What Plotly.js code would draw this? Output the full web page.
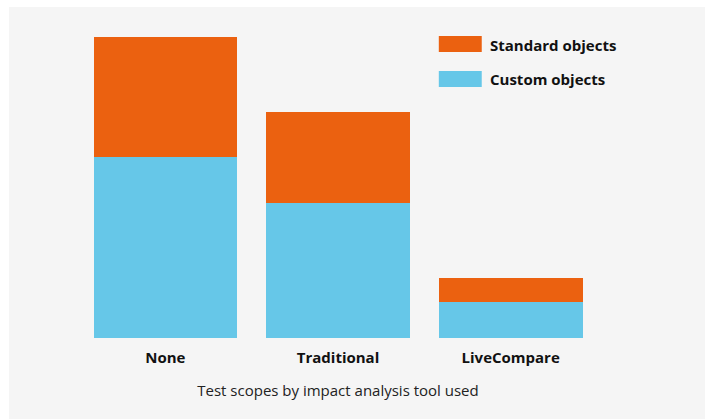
<!DOCTYPE html>
<html>
<head>
<meta charset="utf-8">
<script src="https://cdn.plot.ly/plotly-3.0.1.min.js"></script>
<style>
html,body{margin:0;padding:0;background:#ffffff;}
#chart{position:absolute;left:9px;top:7px;width:696px;height:412px;}
</style>
</head>
<body>
<div id="chart"></div>
<script>
var categories = ["None", "Traditional", "LiveCompare"];
var customObjects = [60, 45, 12];
var standardObjects = [40, 30, 8];
var seriesNames = ["Standard objects", "Custom objects"];
var xTitle = "Test scopes by impact analysis tool used";

var orange = "#EB6110";
var blue = "#66C7E8";

var traces = [
  {type: "bar", name: seriesNames[1], x: categories, y: customObjects,
   marker: {color: blue}, hoverinfo: "x+y+name"},
  {type: "bar", name: seriesNames[0], x: categories, y: standardObjects,
   marker: {color: orange}, hoverinfo: "x+y+name"}
];

var legendX0 = 0.6946, legendX1 = 0.7775, textX = 0.7895;
var legendRows = [
  {name: seriesNames[0], color: orange, y0: 0.9502, y1: 1.0033, ty: 0.9734},
  {name: seriesNames[1], color: blue, y0: 0.8339, y1: 0.887, ty: 0.8605}
];

var shapes = legendRows.map(function(r){
  return {type: "rect", xref: "paper", yref: "paper", x0: legendX0, x1: legendX1,
          y0: r.y0, y1: r.y1, fillcolor: r.color, line: {width: 0}};
});
var annotations = legendRows.map(function(r){
  return {xref: "paper", yref: "paper", x: textX, y: r.ty, xanchor: "left", yanchor: "middle",
          text: "<b>" + r.name + "</b>", showarrow: false,
          font: {family: "Open Sans", size: 15, color: "#111111"}};
});

var layout = {
  width: 696, height: 412,
  margin: {l: 69.5, r: 107.5, t: 30, b: 81, pad: 0},
  paper_bgcolor: "#f5f5f5",
  plot_bgcolor: "#f5f5f5",
  barmode: "stack",
  bargap: 0.168,
  showlegend: false,
  font: {family: "Open Sans", color: "#111111"},
  xaxis: {
    type: "category",
    range: [-0.5, 2.5],
    showgrid: false, zeroline: false, showline: false, ticks: "",
    ticklabelstandoff: 9,
    tickfont: {family: "Open Sans", size: 15, weight: "bold", color: "#111111"},
    title: {text: xTitle, font: {family: "Open Sans", size: 15, color: "#222222"}, standoff: 19}
  },
  yaxis: {
    range: [0, 100],
    visible: false, showgrid: false, zeroline: false
  },
  shapes: shapes,
  annotations: annotations
};

Plotly.newPlot("chart", traces, layout, {displayModeBar: false, staticPlot: true});
</script>
</body>
</html>
